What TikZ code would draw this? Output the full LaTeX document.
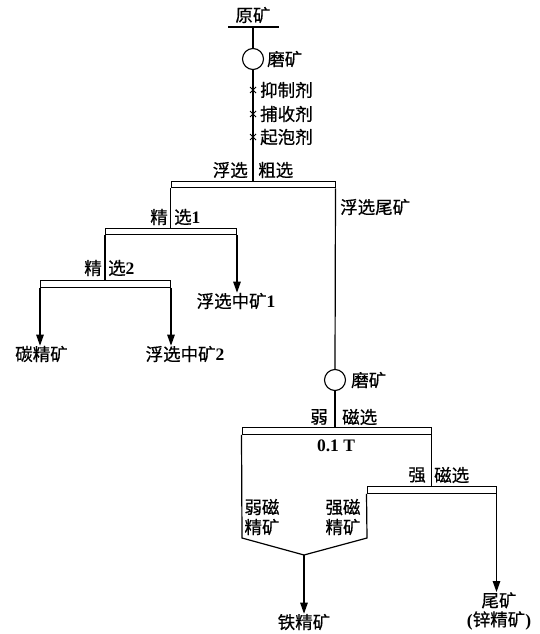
\documentclass[tikz,border=0pt]{standalone}
\usepackage{fontspec}
\setmainfont{Liberation Serif}
\newfontfamily\cjk[FakeBold=0.6]{Noto Sans CJK SC}
\newcommand{\bnum}[1]{{\rmfamily\bfseries #1}}
\usetikzlibrary{arrows.meta}
\begin{document}
\begin{tikzpicture}[x=1pt,y=-1pt,
  lbl/.style={inner sep=0pt, font=\fontsize{17.5}{20}\selectfont\cjk},
  bar/.style={draw, line width=1pt, fill=white, inner sep=0pt, minimum height=6.5pt},
  ln/.style={line width=1.2pt},
  arr/.style={ln, -{Triangle[length=11pt,width=7.5pt]}},
  mill/.style={draw, circle, line width=1.1pt, minimum size=21pt, inner sep=0pt},
  xmark/.style={line width=0.9pt}
]
\useasboundingbox (0,0) rectangle (540,634);

% top
\node[lbl] (raw) at (253,15) {原矿};
\coordinate (rawL) at (228,27);
\coordinate (rawR) at (279,27);
\coordinate (top) at (253,27);
\draw[ln] (rawL) -- (rawR);
\node[mill] (g1) at (253,59) {};
\node[lbl, anchor=west] (g1t) at (267,59) {磨矿};
\draw[ln] (top) -- (g1);

% reagents
\foreach \n/\y/\t in {r1/90/抑制剂, r2/114/捕收剂, r3/137/起泡剂}{
  \coordinate (\n) at (253,\y);
  \draw[xmark] ([shift={(-3,-3)}]\n) -- ([shift={(3,3)}]\n);
  \draw[xmark] ([shift={(-3,3)}]\n) -- ([shift={(3,-3)}]\n);
  \node[lbl, anchor=west] (\n t) at (260,\y) {\t};
}

% rougher
\node[bar, minimum width=164pt] (b1) at (253,184.5) {};
\draw[ln] (g1) -- (b1.north);
\node[lbl, anchor=east] (b1a) at (248,170) {浮选};
\node[lbl, anchor=west] (b1b) at (258,170) {粗选};
\node[lbl, anchor=west] (tail1) at (340,207) {浮选尾矿};

% cleaner 1
\node[bar, minimum width=131pt] (b2) at (171,231.5) {};
\draw[ln] (b1.south west) -- (b1.south west |- b2.north);
\node[lbl, anchor=east] (b2a) at (168,217) {精};
\node[lbl, anchor=west] (b2b) at (174,217) {选\bnum{1}};
\node[lbl] (m1) at (236,301) {浮选中矿\bnum{1}};
\draw[arr] (b2.south east) -- (b2.south east |- m1.north);

% cleaner 2
\node[bar, minimum width=130pt] (b3) at (105.5,284) {};
\draw[ln] (b2.south west) -- (b2.south west |- b3.north);
\node[lbl, anchor=east] (b3a) at (102,268) {精};
\node[lbl, anchor=west] (b3b) at (108,268) {选\bnum{2}};
\node[lbl] (c1) at (41.5,354) {碳精矿};
\node[lbl] (m2) at (185,354) {浮选中矿\bnum{2}};
\draw[arr] (b3.south west) -- (b3.south west |- c1.north);
\draw[arr] (b3.south east) -- (b3.south east |- m2.north);

% second grinding
\node[mill] (g2) at (335,380) {};
\node[lbl, anchor=west] (g2t) at (351,380) {磨矿};
\draw[ln] (b1.south east) -- (g2.north);

% weak magnetic
\node[bar, minimum width=189pt] (b4) at (336.5,431) {};
\draw[ln] (g2.south) -- (g2.south |- b4.north);
\node[lbl, anchor=east] (b4a) at (328,417) {弱};
\node[lbl, anchor=west] (b4b) at (342,417) {磁选};
\node[inner sep=0pt, font=\fontsize{17.5}{20}\selectfont\rmfamily\bfseries] (tesla) at (336,446) {0.1 T};

% strong magnetic
\node[bar, minimum width=129pt] (b5) at (431.5,490) {};
\draw[ln] (b4.south east) -- (b4.south east |- b5.north);
\node[lbl, anchor=east] (b5a) at (426,475) {强};
\node[lbl, anchor=west] (b5b) at (434,475) {磁选};
\node[lbl, align=center] (tail2) at (499,611) {尾矿\\[-1pt]\bnum{(}锌精矿\bnum{)}};
\draw[arr] (b5.south east) -- (b5.south east |- tail2.north);

% merge
\coordinate (wl) at (242,538);
\coordinate (mid) at (304,555);
\coordinate (sr) at (367,538);
\draw[ln] (b4.south west) -- (wl) -- (mid) -- (sr) -- (b5.south west);
\node[lbl, align=center] (wm) at (262,517) {弱磁\\精矿};
\node[lbl, align=center] (sm) at (343,517) {强磁\\精矿};
\node[lbl] (fe) at (304,622) {铁精矿};
\draw[arr] (mid) -- (fe.north);
\end{tikzpicture}
\end{document}
